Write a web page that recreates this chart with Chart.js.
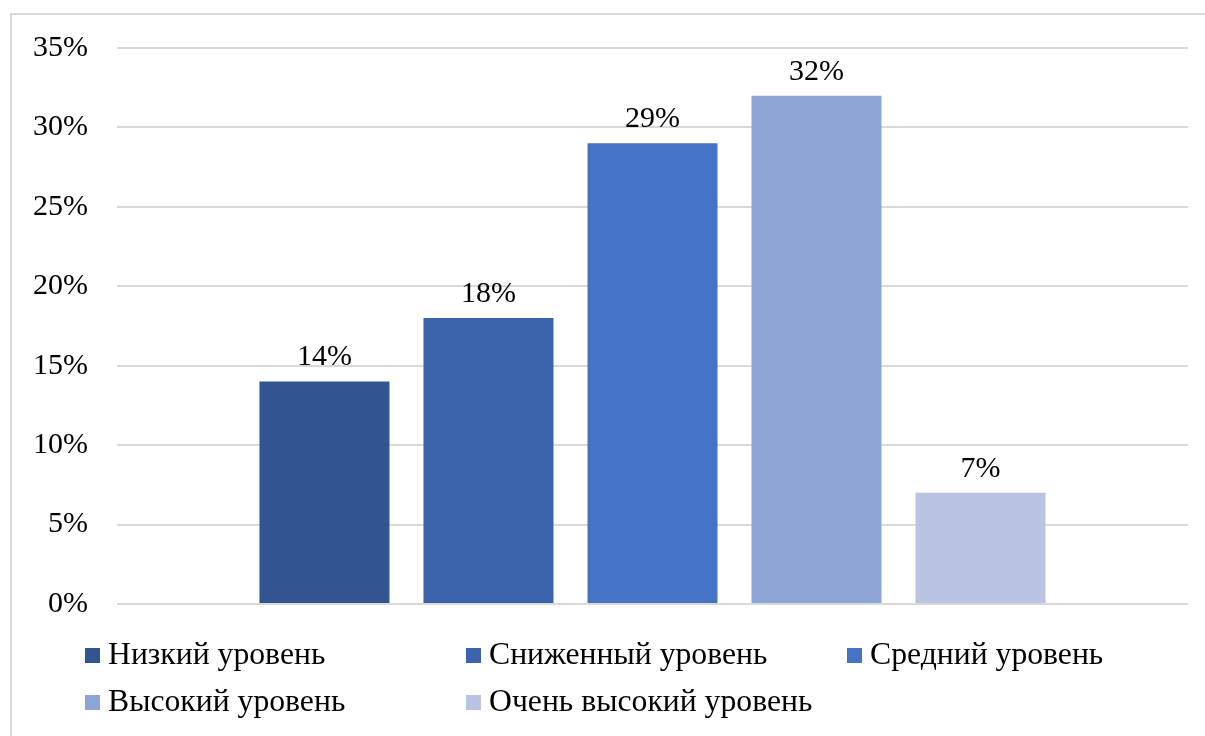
<!DOCTYPE html>
<html><head><meta charset="utf-8">
<script src="https://cdn.jsdelivr.net/npm/chart.js@4/dist/chart.umd.min.js"></script>
<style>html,body{margin:0;padding:0;background:#fff;}#wrap{width:1205px;height:736px;position:relative;}</style>
</head><body><div id="wrap"><canvas id="c" width="1205" height="736"></canvas></div>
<script>
const categories = [''];
const seriesLabels = ['Низкий уровень','Сниженный уровень','Средний уровень','Высокий уровень','Очень высокий уровень'];
const seriesValues = [14, 18, 29, 32, 7];
const seriesColors = ['#325591','#3b64ad','#4472c4','#8fa5d5','#b9c4e3'];
const yTicks = [0,5,10,15,20,25,30,35];

const FONT = '"Liberation Serif","Times New Roman",serif';
const FS = 30;
const LFS = 31.7;

const frame = {
  id:'frame',
  beforeDraw(chart){
    const ctx=chart.ctx; ctx.save();
    ctx.strokeStyle='#d9d9d9'; ctx.lineWidth=2;
    ctx.beginPath(); ctx.moveTo(11,740); ctx.lineTo(11,14); ctx.lineTo(1210,14); ctx.stroke();
    ctx.restore();
  }
};
const labels = {
  id:'labels',
  afterDatasetsDraw(chart){
    const ctx=chart.ctx; ctx.save();
    ctx.font = FS+'px '+FONT; ctx.fillStyle='#000'; ctx.textAlign='center'; ctx.textBaseline='bottom';
    chart.data.datasets.forEach((ds,i)=>{
      chart.getDatasetMeta(i).data.forEach((bar,j)=>{
        ctx.fillText(ds.data[j]+'%', bar.x, bar.y-9);
      });
    });
    ctx.restore();
  }
};
const legendCols = [85, 466, 847];
const legendRows = [655, 702];
const legend = {
  id:'customLegend',
  afterDraw(chart){
    const ctx=chart.ctx; ctx.save();
    ctx.font = LFS+'px '+FONT; ctx.textBaseline='middle'; ctx.textAlign='left';
    chart.data.datasets.forEach((ds,i)=>{
      const x=legendCols[i%3], y=legendRows[Math.floor(i/3)];
      ctx.fillStyle=ds.backgroundColor; ctx.fillRect(x, y-7, 15, 15);
      ctx.fillStyle='#000'; ctx.fillText(ds.label, x+23, y+1);
    });
    ctx.restore();
  }
};

new Chart(document.getElementById('c'), {
  type:'bar',
  data:{
    labels: categories,
    datasets: seriesLabels.map((l,i)=>({label:l, data:[seriesValues[i]], backgroundColor:seriesColors[i], borderWidth:0,
      categoryPercentage:0.7657, barPercentage:0.7927}))
  },
  options:{
    responsive:false, animation:false, devicePixelRatio:1,
    layout:{padding:{top:48,right:17,bottom:132,left:0}},
    plugins:{legend:{display:false}, tooltip:{enabled:false}},
    scales:{
      x:{display:false, grid:{display:false}},
      y:{min:0,max:35,
        afterBuildTicks(s){ s.ticks = yTicks.map(v=>({value:v})); },
        afterFit(s){ s.width=117; },
        ticks:{padding:29, color:'#000', font:{family:FONT,size:FS}, callback:v=>v+'%'},
        grid:{color:'#d9d9d9', lineWidth:2, drawTicks:false},
        border:{display:false}
      }
    }
  },
  plugins:[frame, labels, legend]
});
</script></body></html>
